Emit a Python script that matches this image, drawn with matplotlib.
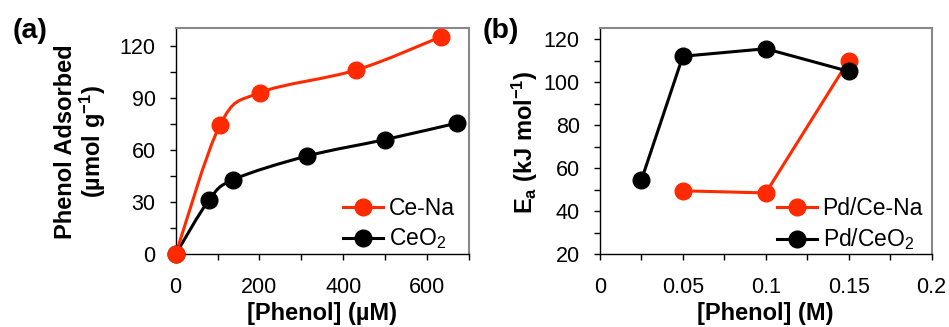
import numpy as np
import matplotlib
matplotlib.use('Agg')
import matplotlib.pyplot as plt
from matplotlib.path import Path
from matplotlib.patches import PathPatch
from matplotlib.lines import Line2D
from matplotlib.ticker import MultipleLocator, FuncFormatter

# (a) phenol adsorption, umol/g vs uM
conc_cena = [0, 106, 201, 431, 632]
ads_cena = [0, 74.5, 93, 106, 125]
conc_ceo2 = [0, 79, 138, 313, 500, 672]
ads_ceo2 = [0, 31, 43, 56.5, 66, 75.5]

# (b) apparent activation energy, kJ/mol vs M
phenol_cena = [0.05, 0.1, 0.15]
ea_cena = [49.5, 48.5, 110]
phenol_ceo2 = [0.025, 0.05, 0.1, 0.15]
ea_ceo2 = [54.5, 112, 115.5, 105]

RED = '#FF2A00'
BLACK = '#000000'
TICK_FS = 15.5
LEG_FS = 16.5
LABEL_FS = 17

plt.rcParams['font.family'] = ['Liberation Sans', 'DejaVu Sans']
plt.rcParams['mathtext.fontset'] = 'custom'
plt.rcParams['mathtext.rm'] = 'Liberation Sans'
plt.rcParams['mathtext.bf'] = 'Liberation Sans:bold'
plt.rcParams['mathtext.default'] = 'regular'


def smooth_path(x, y):
    # excel-like smoothed line (catmull-rom as bezier segments)
    pts = np.column_stack([x, y]).astype(float)
    n = len(pts)
    verts = [pts[0]]
    codes = [Path.MOVETO]
    for i in range(n - 1):
        p0 = pts[max(i - 1, 0)]
        p1 = pts[i]
        p2 = pts[i + 1]
        p3 = pts[min(i + 2, n - 1)]
        verts += [p1 + (p2 - p0) / 6, p2 - (p3 - p1) / 6, p2]
        codes += [Path.CURVE4] * 3
    return Path(verts, codes)


def style_axes(ax):
    for s in ['left', 'bottom']:
        ax.spines[s].set_color('black')
        ax.spines[s].set_linewidth(1.0)
    for s in ['top', 'right']:
        ax.spines[s].set_color('#888888')
        ax.spines[s].set_linewidth(1.5)
    ax.tick_params(which='both', direction='out', length=4.5, width=1.0,
                   top=False, right=False, labelsize=TICK_FS, pad=10)
    ax.tick_params(axis='x', which='both', pad=12)


def legend_handle(color, label):
    return Line2D([], [], color=color, lw=2.2, marker='o', ms=12,
                  label=label)


fig = plt.figure(figsize=(9.49, 3.27), dpi=100)
ax1 = fig.add_axes([0.1851, 0.2223, 0.3091, 0.6912])
ax2 = fig.add_axes([0.6322, 0.2223, 0.3494, 0.6912])

# panel a
for x, y, c in [(conc_ceo2, ads_ceo2, BLACK), (conc_cena, ads_cena, RED)]:
    ax1.add_patch(PathPatch(smooth_path(x, y), fill=False, edgecolor=c,
                            lw=2.2, capstyle='round', joinstyle='round',
                            zorder=3))
    ax1.plot(x, y, 'o', color=c, ms=12, zorder=4, clip_on=False)
ax1.set_xlim(0, 700)
ax1.set_ylim(0, 130)
ax1.xaxis.set_major_locator(MultipleLocator(200))
ax1.xaxis.set_minor_locator(MultipleLocator(100))
ax1.yaxis.set_major_locator(MultipleLocator(30))
ax1.yaxis.set_minor_locator(MultipleLocator(15))
style_axes(ax1)
ax1.set_xlabel('[Phenol] (µM)', fontsize=LABEL_FS, fontweight='bold',
               labelpad=3)
ax1.legend(handles=[legend_handle(RED, 'Ce-Na'),
                    legend_handle(BLACK, 'CeO$_2$')],
           loc='upper left', bbox_to_anchor=(0.57, 0.255), frameon=False,
           fontsize=LEG_FS, handlelength=1.75, handletextpad=0.25,
           labelspacing=0.3, borderpad=0, borderaxespad=0)

# panel b
ax2.plot(phenol_cena, ea_cena, '-o', color=RED, lw=2.2, ms=12, zorder=3,
         clip_on=False)
ax2.plot(phenol_ceo2, ea_ceo2, '-o', color=BLACK, lw=2.2, ms=12, zorder=4,
         clip_on=False)
ax2.set_xlim(0, 0.2)
ax2.set_ylim(20, 125)
ax2.xaxis.set_major_locator(MultipleLocator(0.05))
ax2.xaxis.set_minor_locator(MultipleLocator(0.025))
ax2.xaxis.set_major_formatter(FuncFormatter(lambda v, p: '%g' % round(v, 3)))
ax2.yaxis.set_major_locator(MultipleLocator(20))
ax2.yaxis.set_minor_locator(MultipleLocator(10))
style_axes(ax2)
ax2.set_xlabel('[Phenol] (M)', fontsize=LABEL_FS, fontweight='bold',
               labelpad=3)
ax2.legend(handles=[legend_handle(RED, 'Pd/Ce-Na'),
                    legend_handle(BLACK, 'Pd/CeO$_2$')],
           loc='upper left', bbox_to_anchor=(0.533, 0.255), frameon=False,
           fontsize=LEG_FS, handlelength=1.75, handletextpad=0.25,
           labelspacing=0.3, borderpad=0, borderaxespad=0)

# y labels and panel tags
fig.text(81 / 949, 1 - 142 / 327,
         'Phenol Adsorbed\n(µmol g$^{\\mathbf{-1}}$)', rotation=90,
         ha='center', va='center', fontsize=LABEL_FS, fontweight='bold',
         linespacing=1.05)
fig.text(525 / 949, 1 - 142 / 327,
         'E$_\\mathbf{a}$ (kJ mol$^{\\mathbf{-1}}$)', rotation=90,
         ha='center', va='center', fontsize=LABEL_FS, fontweight='bold')
fig.text(13 / 949, 1 - 31 / 327, '(a)', fontsize=20.5, fontweight='bold',
         ha='left', va='center')
fig.text(483 / 949, 1 - 31 / 327, '(b)', fontsize=20.5, fontweight='bold',
         ha='left', va='center')

fig.savefig('out.png', dpi=100)
